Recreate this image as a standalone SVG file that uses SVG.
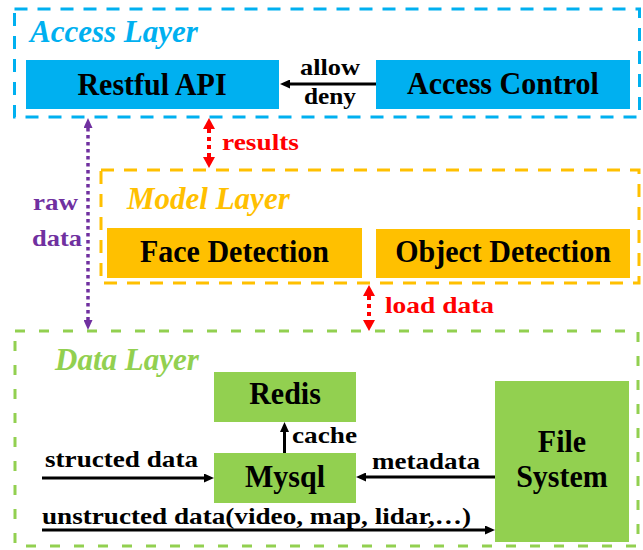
<svg xmlns="http://www.w3.org/2000/svg" width="643" height="550" viewBox="0 0 643 550">
  <style>
    text { font-family: "Liberation Serif", "Times New Roman", serif; font-weight: bold; }
    .title { font-size: 31px; font-style: italic; }
    .node { font-size: 30px; fill: #000; text-anchor: middle; }
    .lbl { font-size: 24px; fill: #000; }
    .layer { fill: none; stroke-width: 3; }
    .solid { stroke: #000; stroke-width: 3; fill: none; marker-end: url(#ah); }
  </style>
  <defs>
    <marker id="ah" viewBox="0 0 10 9" refX="0" refY="4.5" markerWidth="10" markerHeight="9" markerUnits="userSpaceOnUse" orient="auto">
      <path d="M0,0 L10,4.5 L0,9 Z" fill="#000"/>
    </marker>
    <marker id="ap" viewBox="0 0 10 9" refX="0" refY="4.5" markerWidth="10" markerHeight="9" markerUnits="userSpaceOnUse" orient="auto-start-reverse">
      <path d="M0,0 L10,4.5 L0,9 Z" fill="#7030a0"/>
    </marker>
    <marker id="ar" viewBox="0 0 11 12" refX="0" refY="6" markerWidth="11" markerHeight="12" markerUnits="userSpaceOnUse" orient="auto-start-reverse">
      <path d="M0,0 L11,6 L0,12 Z" fill="#ff0000"/>
    </marker>
  </defs>
  <rect width="643" height="550" fill="#fff"/>

  <!-- Access layer -->
  <g id="access-layer">
    <rect class="layer" x="14.5" y="9" width="625" height="108" stroke="#00b0f0" stroke-dasharray="13 10"/>
    <text class="title" x="30" y="42" fill="#00b0f0">Access Layer</text>
  </g>
  <g id="restful-api">
    <rect x="26" y="60" width="253" height="49" fill="#00b0f0"/>
    <text class="node" transform="translate(152,94.5) scale(1,1.08)">Restful API</text>
  </g>
  <g id="access-control">
    <rect x="376" y="60" width="254" height="49" fill="#00b0f0"/>
    <text class="node" transform="translate(503,94) scale(1,1.08)">Access Control</text>
  </g>

  <!-- Model layer -->
  <g id="model-layer">
    <rect class="layer" x="101" y="170" width="538" height="113" stroke="#ffc000" stroke-dasharray="13 10"/>
    <text class="title" x="127" y="209" fill="#ffc000">Model Layer</text>
  </g>
  <g id="face-detection">
    <rect x="107" y="228" width="255" height="50" fill="#ffc000"/>
    <text class="node" transform="translate(234.5,262) scale(1,1.08)">Face Detection</text>
  </g>
  <g id="object-detection">
    <rect x="376" y="229" width="254" height="49" fill="#ffc000"/>
    <text class="node" transform="translate(503,262) scale(1,1.08)">Object Detection</text>
  </g>

  <!-- Data layer -->
  <g id="data-layer">
    <rect class="layer" x="15" y="331" width="623" height="215" stroke="#92d050" stroke-dasharray="10 14"/>
    <text class="title" x="55" y="370" fill="#92d050">Data Layer</text>
  </g>
  <g id="redis">
    <rect x="214" y="372" width="142" height="50" fill="#92d050"/>
    <text class="node" transform="translate(285,403.5) scale(1,1.08)">Redis</text>
  </g>
  <g id="mysql">
    <rect x="214" y="453" width="142" height="50" fill="#92d050"/>
    <text class="node" transform="translate(285,487) scale(1,1.08)">Mysql</text>
  </g>
  <g id="file-system">
    <rect x="495" y="381" width="134" height="161" fill="#92d050"/>
    <text class="node" transform="translate(562,452) scale(1,1.08)">File</text>
    <text class="node" transform="translate(562,487) scale(1,1.08)">System</text>
  </g>

  <!-- Connectors -->
  <g id="connectors">
    <line class="solid" x1="376" y1="84" x2="290" y2="84"/>
    <text class="lbl" x="300" y="75" textLength="60" lengthAdjust="spacingAndGlyphs">allow</text>
    <text class="lbl" x="304" y="104" textLength="52" lengthAdjust="spacingAndGlyphs">deny</text>

    <line x1="88" y1="128" x2="88" y2="320" stroke="#7030a0" stroke-width="3.5" stroke-dasharray="3.5 3.5" marker-start="url(#ap)" marker-end="url(#ap)"/>
    <text class="lbl" x="33" y="210" textLength="45" lengthAdjust="spacingAndGlyphs" style="fill:#7030a0">raw</text>
    <text class="lbl" x="32" y="246" textLength="50" lengthAdjust="spacingAndGlyphs" style="fill:#7030a0">data</text>

    <line x1="209" y1="129" x2="209" y2="157" stroke="#ff0000" stroke-width="4" stroke-dasharray="4 4" marker-start="url(#ar)" marker-end="url(#ar)"/>
    <text class="lbl" x="222" y="150" textLength="77" lengthAdjust="spacingAndGlyphs" style="fill:#ff0000">results</text>

    <line x1="369" y1="296" x2="369" y2="320" stroke="#ff0000" stroke-width="4" stroke-dasharray="4 4" marker-start="url(#ar)" marker-end="url(#ar)"/>
    <text class="lbl" x="385" y="313" textLength="109" lengthAdjust="spacingAndGlyphs" style="fill:#ff0000">load data</text>

    <line class="solid" x1="284.5" y1="453" x2="284.5" y2="432"/>
    <text class="lbl" x="292" y="443" textLength="65" lengthAdjust="spacingAndGlyphs">cache</text>

    <line class="solid" x1="42" y1="478" x2="204" y2="478"/>
    <text class="lbl" x="45" y="467" textLength="153" lengthAdjust="spacingAndGlyphs">structed data</text>

    <line class="solid" x1="495" y1="477" x2="366" y2="477"/>
    <text class="lbl" x="372" y="469" textLength="108" lengthAdjust="spacingAndGlyphs">metadata</text>

    <line class="solid" x1="42" y1="530" x2="485" y2="530"/>
    <text class="lbl" x="42" y="524" textLength="429" lengthAdjust="spacingAndGlyphs">unstructed data(video, map, lidar,…)</text>
  </g>
</svg>
